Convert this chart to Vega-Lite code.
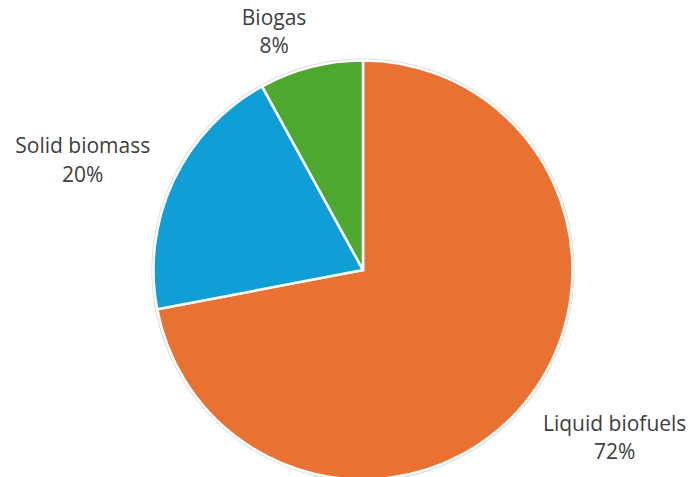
{
  "$schema": "https://vega.github.io/schema/vega-lite/v6.json",
  "width": 658,
  "height": 414,
  "autosize": {"type": "none"},
  "padding": {"left": 34, "top": 63, "right": 0, "bottom": 0},
  "background": "white",
  "config": {"view": {"stroke": null}},
  "data": {
    "values": [
      {"category": "Liquid biofuels", "value": 72, "order": 1},
      {"category": "Solid biomass", "value": 20, "order": 2},
      {"category": "Biogas", "value": 8, "order": 3}
    ]
  },
  "transform": [
    {"stack": "value", "groupby": [], "sort": [{"field": "order"}], "as": ["v0", "v1"]},
    {"calculate": "(datum.v0 + datum.v1) / 2", "as": "mid"},
    {"calculate": "datum.category + '\\n' + datum.value + '%'", "as": "label"}
  ],
  "layer": [
    {
      "mark": {"type": "arc", "outerRadius": 211.5, "fill": "#d4d4d4"},
      "encoding": {
        "theta": {"field": "v0", "type": "quantitative", "scale": {"domain": [0, 100]}},
        "theta2": {"field": "v1"}
      }
    },
    {
      "mark": {"type": "arc", "outerRadius": 209.5, "stroke": "white", "strokeWidth": 2.5},
      "encoding": {
        "theta": {"field": "v0", "type": "quantitative", "scale": {"domain": [0, 100]}},
        "theta2": {"field": "v1"},
        "color": {
          "field": "category",
          "type": "nominal",
          "scale": {
            "domain": ["Liquid biofuels", "Solid biomass", "Biogas"],
            "range": ["#E97132", "#0F9ED5", "#4EA72E"]
          },
          "legend": null
        }
      }
    },
    {
      "transform": [{"filter": "datum.category === 'Biogas'"}],
      "mark": {"type": "text", "radius": 245, "dx": -28, "dy": -14, "lineBreak": "\n", "lineHeight": 28.5, "fontSize": 21, "font": "Open Sans", "fill": "#404040", "align": "center", "baseline": "middle"},
      "encoding": {
        "theta": {"field": "mid", "type": "quantitative", "scale": {"domain": [0, 100]}},
        "text": {"field": "label"}
      }
    },
    {
      "transform": [{"filter": "datum.category === 'Solid biomass'"}],
      "mark": {"type": "text", "radius": 260, "dx": -45, "dy": -12, "lineBreak": "\n", "lineHeight": 28.5, "fontSize": 21, "font": "Open Sans", "fill": "#404040", "align": "center", "baseline": "middle"},
      "encoding": {
        "theta": {"field": "mid", "type": "quantitative", "scale": {"domain": [0, 100]}},
        "text": {"field": "label"}
      }
    },
    {
      "transform": [{"filter": "datum.category === 'Liquid biofuels'"}],
      "mark": {"type": "text", "radius": 263, "dx": 49, "dy": -13, "lineBreak": "\n", "lineHeight": 28.5, "fontSize": 21, "font": "Open Sans", "fill": "#404040", "align": "center", "baseline": "middle"},
      "encoding": {
        "theta": {"field": "mid", "type": "quantitative", "scale": {"domain": [0, 100]}},
        "text": {"field": "label"}
      }
    }
  ]
}
